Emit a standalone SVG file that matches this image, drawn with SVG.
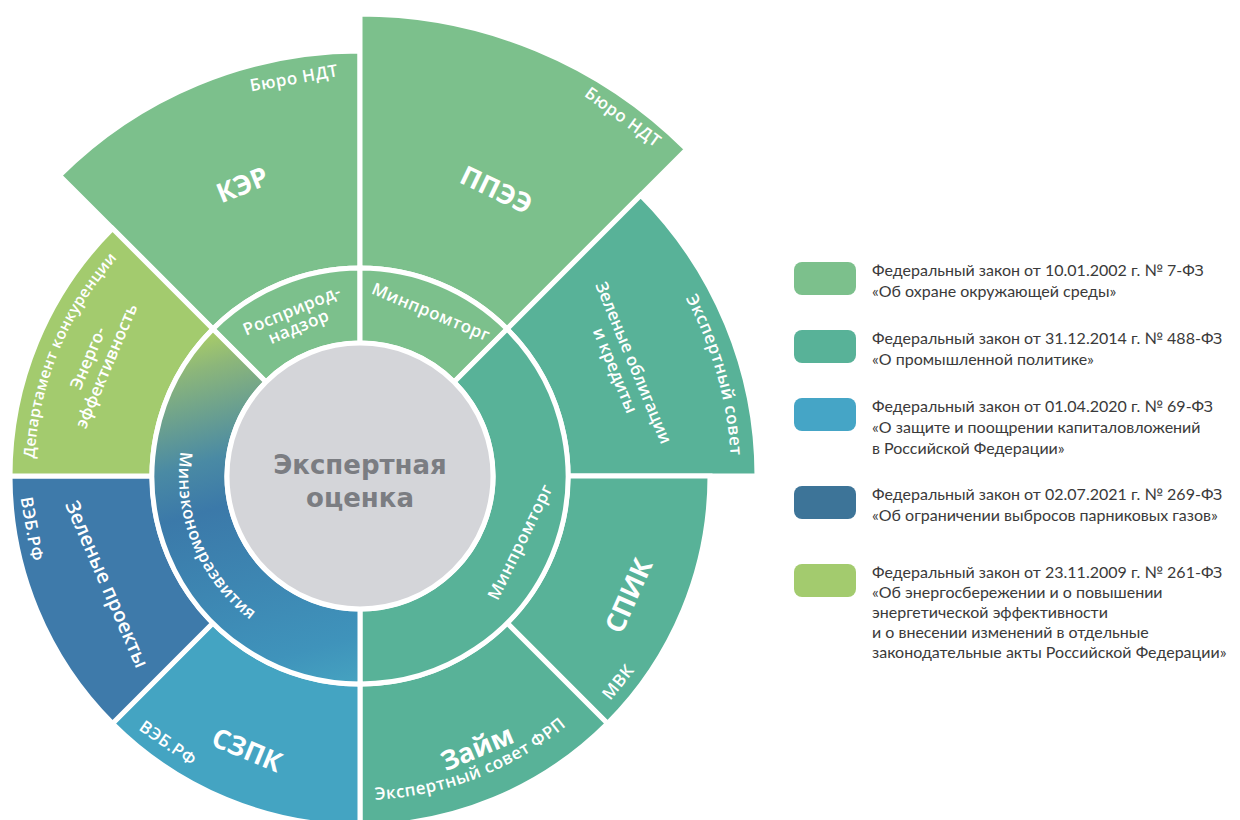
<svg xmlns="http://www.w3.org/2000/svg" width="1240" height="820" viewBox="0 0 1240 820">
<style>
.seg{stroke:#fff;stroke-width:5;stroke-linejoin:miter}
.g1{fill:#7cc08c}
.g2{fill:#58b298}
.g3{fill:#a3cb6e}
.b1{fill:#3e7aaa}
.b2{fill:#44a4c2}
.lbl{font-family:"Open Sans","Noto Sans","DejaVu Sans",sans-serif;fill:#fff;text-anchor:middle}
.big{font-size:27px;font-weight:700}
.mid{font-size:17px;font-weight:600}
.sm{font-size:17px;font-weight:600;letter-spacing:0.5px}
.ctr{font-family:"DejaVu Sans","Open Sans",sans-serif;font-size:26px;font-weight:700;fill:#7b7d82;text-anchor:middle}
.leg{font-family:Lato,"Open Sans",sans-serif;font-size:16px;fill:#3a3a3a}
</style>
<defs>
<linearGradient id="minec" gradientUnits="userSpaceOnUse" x1="230" y1="330" x2="330" y2="690">
<stop offset="0" stop-color="#a6ca6a"/>
<stop offset="0.08" stop-color="#8cb67a"/>
<stop offset="0.32" stop-color="#4a8aa4"/>
<stop offset="0.45" stop-color="#3b79a9"/>
<stop offset="0.88" stop-color="#3f93bb"/>
<stop offset="1" stop-color="#45a2c0"/>
</linearGradient>
<path id="pMinec" d="M232.01 348.01 A181 181 0 0 0 360 657"/>
<path id="pDep" d="M34 476 A326 326 0 0 1 129.48 245.48"/>
<path id="pExp" d="M622.34 213.66 A371 371 0 0 1 731 476"/>
<path id="pFrp" d="M360 800 A324 324 0 0 0 589.1 705.1"/>
</defs>
<rect width="1240" height="820" fill="#fff"/>

<g id="node-ker">
<path class="seg g1" d="M212.92 328.92 L59.48 175.48 A425 425 0 0 1 360 51 L360 268 A208 208 0 0 0 212.92 328.92 Z"/>
<text class="lbl big" transform="translate(242.4,184.9) rotate(-22)" dy="0.35em">КЭР</text>
<text class="lbl sm" transform="translate(294,78) rotate(-10)" dy="0.35em">Бюро НДТ</text>
</g>
<g id="node-ppee">
<path class="seg g1" d="M360 268 L360 14 A462 462 0 0 1 686.68 149.32 L507.08 328.92 A208 208 0 0 0 360 268 Z"/>
<text class="lbl big" transform="translate(496.5,189.9) rotate(25.5)" dy="0.35em">ППЭЭ</text>
<text class="lbl sm" transform="translate(623,117) rotate(36)" dy="0.35em">Бюро НДТ</text>
</g>
<g id="node-green-bonds">
<path class="seg g2" d="M507.08 328.92 L640.72 195.28 A397 397 0 0 1 757 476 L568 476 A208 208 0 0 0 507.08 328.92 Z"/>
<text class="lbl mid" transform="translate(624.5,366.5) rotate(67.5)"><tspan x="0" y="-4">Зеленые облигации</tspan><tspan x="0" y="16">и кредиты</tspan></text>
<text class="lbl sm"><textPath href="#pExp" startOffset="64.7%">Экспертный совет</textPath></text>
</g>
<g id="node-spik">
<path class="seg g2" d="M568 476 L710 476 A350 350 0 0 1 607.49 723.49 L507.08 623.08 A208 208 0 0 0 568 476 Z"/>
<text class="lbl big" transform="translate(628.6,595.6) rotate(-66)" dy="0.35em">СПИК</text>
<text class="lbl sm" transform="translate(618,682) rotate(-51)" dy="0.35em">МВК</text>
</g>
<g id="node-zaim">
<path class="seg g2" d="M507.08 623.08 L607.49 723.49 A350 350 0 0 1 360 826 L360 684 A208 208 0 0 0 507.08 623.08 Z"/>
<text class="lbl big" transform="translate(477,748) rotate(-23)" dy="0.35em">Займ</text>
<text class="lbl sm"><textPath href="#pFrp" startOffset="47%">Экспертный совет ФРП</textPath></text>
</g>
<g id="node-szpk">
<path class="seg b2" d="M360 684 L360 826 A350 350 0 0 1 112.51 723.49 L212.92 623.08 A208 208 0 0 0 360 684 Z"/>
<text class="lbl big" transform="translate(247,750) rotate(22.5)" dy="0.35em">СЗПК</text>
<text class="lbl sm" transform="translate(168,743) rotate(35)" dy="0.35em">ВЭБ.РФ</text>
</g>
<g id="node-green-projects">
<path class="seg b1" d="M212.92 623.08 L112.51 723.49 A350 350 0 0 1 10 476 L152 476 A208 208 0 0 0 212.92 623.08 Z"/>
<text class="lbl" style="font-size:20px;font-weight:600" transform="translate(107,584) rotate(66.5)" dy="0.35em">Зеленые проекты</text>
<text class="lbl sm" transform="translate(32,529) rotate(80)" dy="0.35em">ВЭБ.РФ</text>
</g>
<g id="node-energy">
<path class="seg g3" d="M152 476 L10 476 A350 350 0 0 1 112.51 228.51 L212.92 328.92 A208 208 0 0 0 152 476 Z"/>
<text class="lbl mid" transform="translate(97,362) rotate(-67)"><tspan x="0" y="-4">Энерго-</tspan><tspan x="0" y="16">эффективность</tspan></text>
<text class="lbl" style="font-size:15.5px;font-weight:600;letter-spacing:0.3px"><textPath href="#pDep" startOffset="50%">Департамент конкуренции</textPath></text>
</g>

<g id="node-rosprirod">
<path class="seg g1" d="M265.95 381.95 L212.92 328.92 A208 208 0 0 1 360 268 L360 343 A133 133 0 0 0 265.95 381.95 Z"/>
<text class="lbl sm" transform="translate(295.5,319) rotate(-22.5)"><tspan x="0" y="-3.5">Росприрод-</tspan><tspan x="0" y="14">надзор</tspan></text>
</g>
<g id="node-minprom-top">
<path class="seg g1" d="M360 343 L360 268 A208 208 0 0 1 507.08 328.92 L454.05 381.95 A133 133 0 0 0 360 343 Z"/>
<text class="lbl sm" transform="translate(431,312) rotate(22.5)" dy="0.35em">Минпромторг</text>
</g>
<g id="node-minprom-right">
<path class="seg g2" d="M454.05 381.95 L507.08 328.92 A208 208 0 0 1 360 684 L360 609 A133 133 0 0 0 454.05 381.95 Z"/>
<text class="lbl sm" transform="translate(520,542) rotate(-64)" dy="0.35em">Минпромторг</text>
</g>
<g id="node-mineconom">
<path class="seg" fill="url(#minec)" d="M360 609 L360 684 A208 208 0 0 1 212.92 328.92 L265.95 381.95 A133 133 0 0 0 360 609 Z"/>
<text class="lbl sm"><textPath href="#pMinec" startOffset="50%">Минэкономразвития</textPath></text>
</g>
<g id="node-center">
<circle cx="360" cy="476" r="133" fill="#d4d5d9" stroke="#fff" stroke-width="5"/>
<text class="ctr"><tspan x="360" y="474">Экспертная</tspan><tspan x="360" y="507">оценка</tspan></text>
</g>

<g id="connectors"></g>

<g id="legend">
<g id="leg1">
<rect x="794" y="262" width="62" height="33" rx="8" fill="#7cc08c"/>
<text class="leg" x="872" y="276">Федеральный закон от 10.01.2002 г. № 7-ФЗ</text>
<text class="leg" x="872" y="297">«Об охране окружающей среды»</text>
</g>
<g id="leg2">
<rect x="794" y="330" width="62" height="33" rx="8" fill="#58b298"/>
<text class="leg" x="872" y="344">Федеральный закон от 31.12.2014 г. № 488-ФЗ</text>
<text class="leg" x="872" y="365">«О промышленной политике»</text>
</g>
<g id="leg3">
<rect x="794" y="398" width="62" height="33" rx="8" fill="#45a5c6"/>
<text class="leg" x="872" y="412">Федеральный закон от 01.04.2020 г. № 69-ФЗ</text>
<text class="leg" x="872" y="433">«О защите и поощрении капиталовложений</text>
<text class="leg" x="872" y="454">в Российской Федерации»</text>
</g>
<g id="leg4">
<rect x="794" y="486" width="62" height="33" rx="8" fill="#3d7498"/>
<text class="leg" x="872" y="500">Федеральный закон от 02.07.2021 г. № 269-ФЗ</text>
<text class="leg" x="872" y="521">«Об ограничении выбросов парниковых газов»</text>
</g>
<g id="leg5">
<rect x="794" y="564" width="62" height="33" rx="8" fill="#a3cb6e"/>
<text class="leg" x="872" y="578">Федеральный закон от 23.11.2009 г. № 261-ФЗ</text>
<text class="leg" x="872" y="598">«Об энергосбережении и о повышении</text>
<text class="leg" x="872" y="618">энергетической эффективности</text>
<text class="leg" x="872" y="638">и о внесении изменений в отдельные</text>
<text class="leg" x="872" y="658">законодательные акты Российской Федерации»</text>
</g>
</g>
</svg>
